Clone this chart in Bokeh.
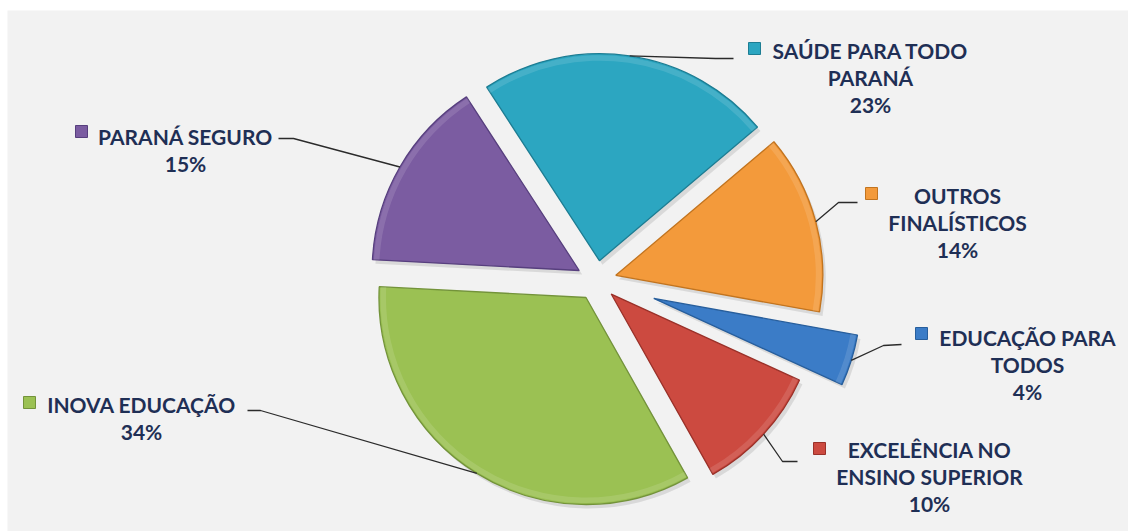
import math
from bokeh.plotting import figure
from bokeh.models import Range1d, ColumnDataSource
from bokeh.core.properties import value
from bokeh.embed import file_html
from bokeh.resources import INLINE

# ---------------- data ----------------
categories = [
    "SAÚDE PARA TODO\nPARANÁ",
    "OUTROS\nFINALÍSTICOS",
    "EDUCAÇÃO PARA\nTODOS",
    "EXCELÊNCIA NO\nENSINO SUPERIOR",
    "INOVA EDUCAÇÃO",
    "PARANÁ SEGURO",
]
values = [23, 14, 4, 10, 34, 15]
colors = ["#2ca6c1", "#f39a3b", "#3b7cc7", "#cc4a40", "#9bc153", "#7b5ca1"]
edge_colors = ["#1d7d93", "#c2741f", "#275e9c", "#9a3129", "#73933a", "#573f7e"]

# ---------------- layout (reference pixel coordinates) ----------------
W, H = 1128, 531
OX, OY = 7, 10           # white strip left / top of the grey chart area
FW, FH = W - OX, H - OY  # frame size


def X(xr):
    return xr - OX


def Y(yr):
    return FH - (yr - OY)


CX, CY = 596, 280
R = 207
START = 327.0  # degrees clockwise from 12 o'clock
explode = [20, 20, 60, 20, 20, 20]

label_cx = [870, 957, 1027, 929, 141, 185]
label_y0 = [50, 195, 337, 449, 404, 136]
LINE_GAP = 27
marker_xy = [(754, 48), (871, 193), (921, 333), (819, 448), (29, 402), (81, 131)]
leader_tail = [
    [(715, 58), (733, 58)],
    [(838, 202), (857, 202)],
    [(883, 345), (901, 344)],
    [(782, 461), (797, 461)],
    [(260, 410), (247, 410)],
    [(293, 138), (278, 138)],
]
TEXT_COLOR = "#1f2f55"
FONT = "Lato"

p = figure(
    width=W, height=H,
    x_range=Range1d(0, FW), y_range=Range1d(0, FH),
    output_backend="svg", toolbar_location=None,
    x_axis_location=None, y_axis_location=None,
    min_border=0, min_border_left=OX, min_border_top=OY,
)
p.grid.visible = False
p.outline_line_color = None
p.background_fill_color = "#f2f2f2"
p.border_fill_color = "#ffffff"

total = float(sum(values))
cum = START
wx, wy, sa, ea, bis_list, ax_list, ay_list = [], [], [], [], [], [], []
for v, e in zip(values, explode):
    span = 360.0 * v / total
    t0, t1 = cum, cum + span
    bis = math.radians(cum + span / 2)
    cum = t1
    axr = CX + e * math.sin(bis)
    ayr = CY - e * math.cos(bis)
    ax_list.append(axr)
    ay_list.append(ayr)
    bis_list.append(bis)
    wx.append(X(axr))
    wy.append(Y(ayr))
    sa.append(math.radians(90 - t0))
    ea.append(math.radians(90 - t1))

src = ColumnDataSource(dict(x=wx, y=wy, sa=sa, ea=ea, fill=colors, edge=edge_colors,
                            sx=[x + 3 for x in wx], sy=[y - 4 for y in wy]))

# soft shadow
p.wedge(x="sx", y="sy", radius=R, start_angle="sa", end_angle="ea", direction="clock",
        source=src, fill_color="#000000", fill_alpha=0.10, line_color=None)
# slices
p.wedge(x="x", y="y", radius=R, start_angle="sa", end_angle="ea", direction="clock",
        source=src, fill_color="fill", line_color="edge", line_width=1.3)
# subtle bevel highlight along the outer rim
p.annular_wedge(x="x", y="y", inner_radius=R - 7, outer_radius=R - 1.5, start_angle="sa",
                end_angle="ea", direction="clock", source=src, fill_color="#ffffff",
                fill_alpha=0.12, line_color=None)

# leader lines
for i in range(len(values)):
    b = bis_list[i]
    sx_ = ax_list[i] + R * math.sin(b)
    sy_ = ay_list[i] - R * math.cos(b)
    pts = [(sx_, sy_)] + leader_tail[i]
    p.line([X(a) for a, _ in pts], [Y(c) for _, c in pts], line_color="#2b2b2b", line_width=1.3)

# legend-like markers
p.scatter([X(m[0]) for m in marker_xy], [Y(m[1]) for m in marker_xy], marker="square",
          size=12, fill_color=colors, line_color=edge_colors, line_width=1)

# labels
tx, ty, tt = [], [], []
for i, (cat, v) in enumerate(zip(categories, values)):
    lines = cat.split("\n") + [f"{v}%"]
    for k, ln in enumerate(lines):
        tx.append(X(label_cx[i]))
        ty.append(Y(label_y0[i] + k * LINE_GAP))
        tt.append(ln)
p.text(x=tx, y=ty, text=tt, text_font=value(FONT), text_font_style="bold",
       text_font_size="21px", text_color=TEXT_COLOR, text_align="center",
       text_baseline="middle")

open("out.html", "w").write(file_html(p, INLINE))
